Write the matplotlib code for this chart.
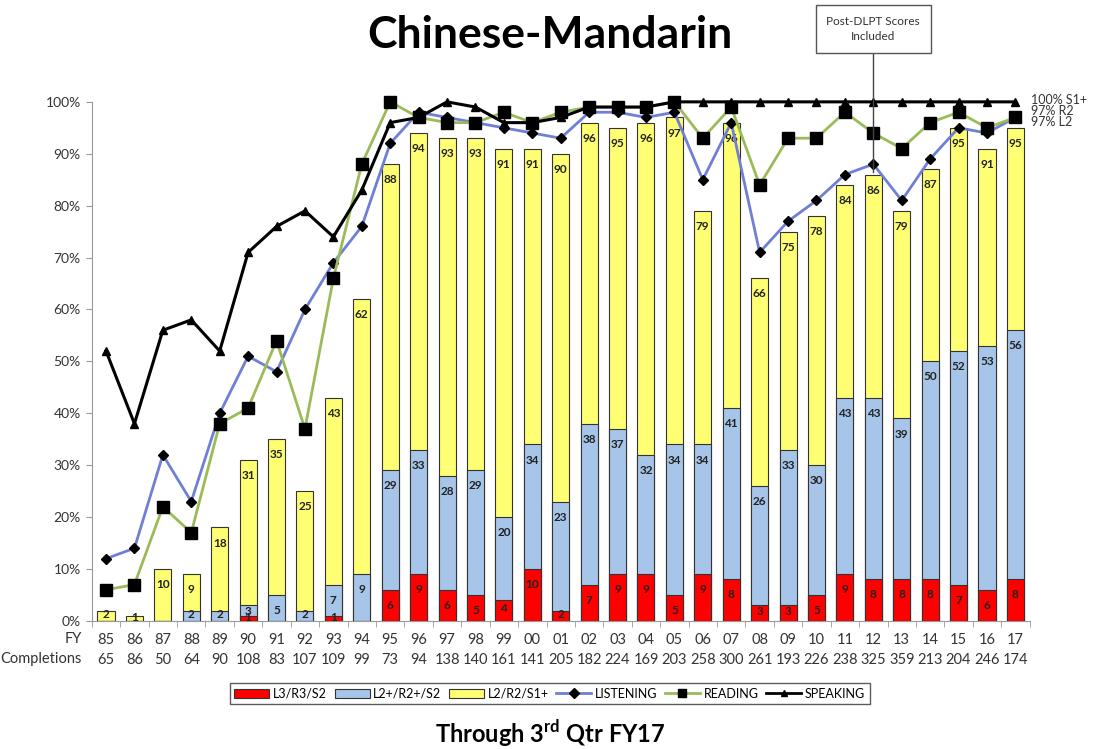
import matplotlib
matplotlib.use("Agg")
import matplotlib.pyplot as plt
from matplotlib.lines import Line2D
from matplotlib.patches import Patch

plt.rcParams['font.family'] = ['Lato', 'DejaVu Sans']

# data
fy = ['85', '86', '87', '88', '89', '90', '91', '92', '93', '94', '95', '96', '97', '98', '99', '00', '01',
      '02', '03', '04', '05', '06', '07', '08', '09', '10', '11', '12', '13', '14', '15', '16', '17']
completions = [65, 86, 50, 64, 90, 108, 83, 107, 109, 99, 73, 94, 138, 140, 161, 141, 205,
               182, 224, 169, 203, 258, 300, 261, 193, 226, 238, 325, 359, 213, 204, 246, 174]
s1_plus = [2, 1, 10, 9, 18, 31, 35, 25, 43, 62, 88, 94, 93, 93, 91, 91, 90,
           96, 95, 96, 97, 79, 96, 66, 75, 78, 84, 86, 79, 87, 95, 91, 95]
l2_plus = [0, 0, 0, 2, 2, 3, 5, 2, 7, 9, 29, 33, 28, 29, 20, 34, 23,
           38, 37, 32, 34, 34, 41, 26, 33, 30, 43, 43, 39, 50, 52, 53, 56]
l3 = [0, 0, 0, 0, 0, 1, 0, 0, 1, 0, 6, 9, 6, 5, 4, 10, 2,
      7, 9, 9, 5, 9, 8, 3, 3, 5, 9, 8, 8, 8, 7, 6, 8]
listening = [12, 14, 32, 23, 40, 51, 48, 60, 69, 76, 92, 98, 97, 96, 95, 94, 93,
             98, 98, 97, 98, 85, 96, 71, 77, 81, 86, 88, 81, 89, 95, 94, 97]
reading = [6, 7, 22, 17, 38, 41, 54, 37, 66, 88, 100, 97, 96, 96, 98, 96, 98,
           99, 99, 99, 100, 93, 99, 84, 93, 93, 98, 94, 91, 96, 98, 95, 97]
speaking = [52, 38, 56, 58, 52, 71, 76, 79, 74, 83, 96, 97, 100, 99, 96, 96, 97,
            99, 99, 99, 100, 100, 100, 100, 100, 100, 100, 100, 100, 100, 100, 100, 100]
notes = ['100% S1+', '97% R2', '97% L2']

x = list(range(len(fy)))

fig = plt.figure(figsize=(10.93, 7.49), dpi=100)
ax = fig.add_axes([0.084, 0.171, 0.858, 0.693])

w = 0.6
ax.bar(x, s1_plus, w, color='#FFFF73', edgecolor='#333333', linewidth=0.8, zorder=2)
ax.bar(x, l2_plus, w, color='#A6C5E8', edgecolor='#333333', linewidth=0.8, zorder=3)
ax.bar(x, l3, w, color='#FF0000', edgecolor='#333333', linewidth=0.8, zorder=4)

def label_y(v):
    return v - 3 if v >= 5 else 0.6 * v

for series in (s1_plus, l2_plus, l3):
    for xi, v in zip(x, series):
        if v > 0:
            ax.text(xi, label_y(v), str(v), ha='center', va='center', fontsize=8.5,
                    fontweight='bold', color='#222222', zorder=5)

ax.plot(x, listening, color='#6F7FD6', lw=2, marker='D', ms=5, mfc='black', mec='black',
        zorder=6, clip_on=False)
ax.plot(x, reading, color='#9BBB59', lw=2, marker='s', ms=8, mfc='black', mec='black',
        zorder=7, clip_on=False)
ax.plot(x, speaking, color='black', lw=2.2, marker='^', ms=6, mfc='black', mec='black',
        zorder=8, clip_on=False)

ax.set_xlim(-0.5, len(fy) - 0.5)
ax.set_ylim(0, 100)
ax.set_yticks(range(0, 101, 10))
ax.set_yticklabels([f'{v}%' for v in range(0, 101, 10)], fontsize=10, color='#333333')
ax.set_xticks(x)
ax.set_xticklabels([f'{a}\n{b}' for a, b in zip(fy, completions)], fontsize=10.5,
                   color='#333333', linespacing=1.5)
ax.tick_params(axis='x', length=0, pad=9)
ax.set_xticks([i + 0.5 for i in range(-1, len(fy))], minor=True)
ax.tick_params(axis='x', which='minor', length=4, color='#999999')
ax.tick_params(axis='y', length=4, color='#999999', pad=4)
for s in ('top', 'right'):
    ax.spines[s].set_visible(False)
ax.spines['left'].set_color('#999999')
ax.spines['bottom'].set_color('#999999')

ax.text(-0.85, -3.5, 'FY', ha='right', va='center', fontsize=10.5, color='#333333')
ax.text(-0.85, -7.4, 'Completions', ha='right', va='center', fontsize=10.5, color='#333333')

# right side notes
for i, t in enumerate(notes):
    ax.text(32.55, 100.4 - 2.1 * i, t, fontsize=9, color='#333333', va='center')

# post-DLPT callout
ax.plot([27, 27], [86.5, 110], color='#444444', lw=1, clip_on=False, zorder=9)
ax.text(27, 114, 'Post-DLPT Scores\nIncluded', ha='center', va='center', fontsize=8.5,
        color='#333333', linespacing=1.5, zorder=10,
        bbox=dict(boxstyle='square,pad=0.9', fc='white', ec='#555555', lw=1))

fig.text(0.503, 0.953, 'Chinese-Mandarin', ha='center', va='center', fontsize=32,
         fontweight='bold', color='black')
fig.text(0.503, 0.021, r'Through 3$^{\mathregular{rd}}$ Qtr FY17', ha='center', va='center',
         fontsize=17, fontweight='bold', color='black')

handles = [Patch(fc='#FF0000', ec='#333333', lw=0.8),
           Patch(fc='#A6C5E8', ec='#333333', lw=0.8),
           Patch(fc='#FFFF73', ec='#333333', lw=0.8),
           Line2D([], [], color='#6F7FD6', lw=2, marker='D', ms=5, mfc='black', mec='black'),
           Line2D([], [], color='#9BBB59', lw=2, marker='s', ms=6, mfc='black', mec='black'),
           Line2D([], [], color='black', lw=2, marker='^', ms=5, mfc='black', mec='black')]
names = ['L3/R3/S2', 'L2+/R2+/S2', 'L2/R2/S1+', 'LISTENING', 'READING', 'SPEAKING']
leg = fig.legend(handles, names, loc='center', bbox_to_anchor=(0.503, 0.074), ncol=6,
                 fontsize=9, frameon=True, fancybox=False, edgecolor='#333333',
                 handlelength=2.8, handletextpad=0.3, columnspacing=0.6, borderpad=0.35,
                 handleheight=0.7)
leg.get_frame().set_linewidth(1)

fig.savefig('out.png', dpi=100)
